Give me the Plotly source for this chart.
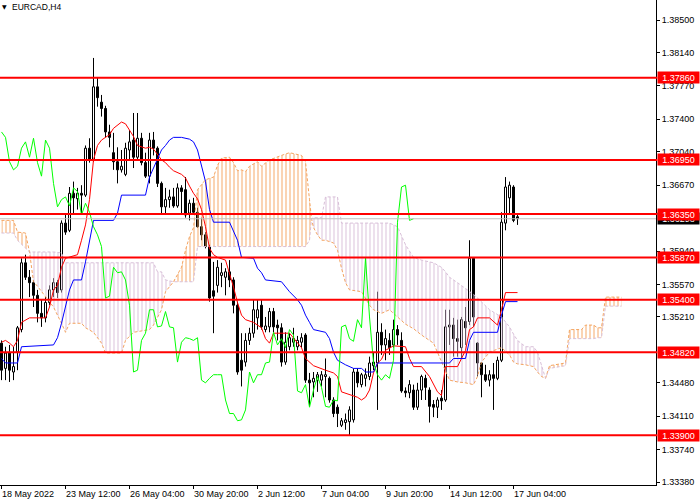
import plotly.graph_objects as go

# ---- EURCAD H4 candles (bar 0 = 18 May 20:00) ----
bars = list(range(130))

open_ = [1.3492, 1.3464, 1.3481, 1.3460, 1.3482, 1.3507, 1.3581, 1.3565, 1.3559, 1.3545,
         1.3525, 1.3520, 1.3537, 1.3551, 1.3559, 1.3551, 1.3625, 1.3617, 1.3658, 1.3652,
         1.3658, 1.3656, 1.3708, 1.3695, 1.3776, 1.3759, 1.3752, 1.3726, 1.3703, 1.3693,
         1.3684, 1.3679, 1.3706, 1.3717, 1.3698, 1.3719, 1.3692, 1.3677, 1.3717, 1.3708,
         1.3669, 1.3643, 1.3651, 1.3654, 1.3644, 1.3664, 1.3662, 1.3636, 1.3647, 1.3637,
         1.3621, 1.3612, 1.3599, 1.3550, 1.3556, 1.3567, 1.3565, 1.3571, 1.3562, 1.3534,
         1.3473, 1.3471, 1.3495, 1.3503, 1.3520, 1.3534, 1.3507, 1.3510, 1.3527, 1.3512,
         1.3509, 1.3471, 1.3488, 1.3493, 1.3488, 1.3493, 1.3501, 1.3451, 1.3449, 1.3451,
         1.3451, 1.3455, 1.3453, 1.3429, 1.3421, 1.3401, 1.3404, 1.3405, 1.3407, 1.3460,
         1.3446, 1.3453, 1.3455, 1.3467, 1.3470, 1.3504, 1.3490, 1.3495, 1.3490, 1.3507,
         1.3495, 1.3439, 1.3437, 1.3440, 1.3421, 1.3440, 1.3453, 1.3440, 1.3424, 1.3421,
         1.3431, 1.3429, 1.3510, 1.3512, 1.3497, 1.3487, 1.3516, 1.3516, 1.3586, 1.3492,
         1.3470, 1.3457, 1.3451, 1.3457, 1.3453, 1.3473, 1.3625, 1.3653, 1.3665, 1.3632]

high = [1.3495, 1.3488, 1.3490, 1.3488, 1.3511, 1.3586, 1.3590, 1.3573, 1.3562, 1.3551,
        1.3540, 1.3543, 1.3556, 1.3564, 1.3562, 1.3628, 1.3636, 1.3665, 1.3671, 1.3664,
        1.3667, 1.3711, 1.3719, 1.3808, 1.3786, 1.3767, 1.3755, 1.3734, 1.3725, 1.3709,
        1.3706, 1.3714, 1.3728, 1.3747, 1.3747, 1.3725, 1.3703, 1.3725, 1.3726, 1.3710,
        1.3671, 1.3664, 1.3662, 1.3664, 1.3669, 1.3667, 1.3676, 1.3651, 1.3653, 1.3642,
        1.3631, 1.3615, 1.3601, 1.3582, 1.3584, 1.3581, 1.3575, 1.3584, 1.3565, 1.3538,
        1.3503, 1.3503, 1.3509, 1.3540, 1.3540, 1.3540, 1.3521, 1.3531, 1.3531, 1.3518,
        1.3514, 1.3504, 1.3503, 1.3509, 1.3500, 1.3503, 1.3503, 1.3459, 1.3460, 1.3460,
        1.3461, 1.3475, 1.3455, 1.3432, 1.3424, 1.3409, 1.3414, 1.3422, 1.3464, 1.3464,
        1.3459, 1.3464, 1.3477, 1.3481, 1.3549, 1.3514, 1.3507, 1.3503, 1.3518, 1.3512,
        1.3504, 1.3443, 1.3451, 1.3446, 1.3448, 1.3457, 1.3457, 1.3443, 1.3429, 1.3432,
        1.3440, 1.3529, 1.3529, 1.3520, 1.3518, 1.3521, 1.3532, 1.3606, 1.3587, 1.3493,
        1.3471, 1.3468, 1.3462, 1.3470, 1.3477, 1.3637, 1.3676, 1.3671, 1.3667, 1.3634]

low = [1.3451, 1.3451, 1.3449, 1.3451, 1.3462, 1.3504, 1.3562, 1.3543, 1.3532, 1.3515,
       1.3510, 1.3515, 1.3534, 1.3543, 1.3542, 1.3548, 1.3612, 1.3615, 1.3636, 1.3640,
       1.3636, 1.3654, 1.3692, 1.3693, 1.3754, 1.3743, 1.3720, 1.3709, 1.3684, 1.3669,
       1.3681, 1.3677, 1.3695, 1.3686, 1.3695, 1.3689, 1.3675, 1.3669, 1.3700, 1.3665,
       1.3636, 1.3634, 1.3642, 1.3642, 1.3642, 1.3634, 1.3631, 1.3628, 1.3634, 1.3620,
       1.3606, 1.3597, 1.3538, 1.3503, 1.3548, 1.3554, 1.3545, 1.3554, 1.3525, 1.3457,
       1.3444, 1.3466, 1.3490, 1.3498, 1.3507, 1.3507, 1.3504, 1.3504, 1.3504, 1.3495,
       1.3466, 1.3468, 1.3484, 1.3488, 1.3484, 1.3487, 1.3448, 1.3422, 1.3432, 1.3438,
       1.3444, 1.3432, 1.3426, 1.3410, 1.3399, 1.3399, 1.3396, 1.3390, 1.3404, 1.3443,
       1.3443, 1.3444, 1.3451, 1.3462, 1.3418, 1.3479, 1.3473, 1.3479, 1.3487, 1.3490,
       1.3437, 1.3432, 1.3431, 1.3418, 1.3418, 1.3429, 1.3429, 1.3404, 1.3410, 1.3409,
       1.3418, 1.3427, 1.3490, 1.3477, 1.3477, 1.3475, 1.3490, 1.3512, 1.3510, 1.3455,
       1.3432, 1.3449, 1.3444, 1.3418, 1.3451, 1.3471, 1.3617, 1.3636, 1.3626, 1.3623]

close = [1.3462, 1.3481, 1.3462, 1.3466, 1.3509, 1.3581, 1.3565, 1.3559, 1.3545, 1.3525,
         1.3520, 1.3537, 1.3551, 1.3559, 1.3548, 1.3625, 1.3615, 1.3658, 1.3653, 1.3658,
         1.3656, 1.3708, 1.3695, 1.3776, 1.3764, 1.3752, 1.3726, 1.3720, 1.3693, 1.3684,
         1.3688, 1.3708, 1.3715, 1.3698, 1.3719, 1.3692, 1.3677, 1.3717, 1.3708, 1.3669,
         1.3643, 1.3651, 1.3654, 1.3644, 1.3664, 1.3660, 1.3634, 1.3647, 1.3637, 1.3621,
         1.3612, 1.3599, 1.3542, 1.3544, 1.3576, 1.3570, 1.3571, 1.3562, 1.3534, 1.3460,
         1.3462, 1.3495, 1.3503, 1.3529, 1.3529, 1.3510, 1.3511, 1.3527, 1.3510, 1.3509,
         1.3471, 1.3493, 1.3498, 1.3497, 1.3495, 1.3498, 1.3451, 1.3448, 1.3453, 1.3457,
         1.3457, 1.3457, 1.3429, 1.3414, 1.3414, 1.3406, 1.3407, 1.3418, 1.3460, 1.3448,
         1.3457, 1.3457, 1.3470, 1.3471, 1.3504, 1.3490, 1.3497, 1.3487, 1.3507, 1.3501,
         1.3439, 1.3437, 1.3446, 1.3421, 1.3440, 1.3455, 1.3443, 1.3422, 1.3421, 1.3429,
         1.3428, 1.3510, 1.3512, 1.3497, 1.3494, 1.3518, 1.3509, 1.3586, 1.3521, 1.3470,
         1.3457, 1.3451, 1.3457, 1.3453, 1.3473, 1.3626, 1.3665, 1.3667, 1.3628, 1.36298]

# ---- Ichimoku lines (bar, price) ----
tenkan_bars = [0, 1, 2, 3, 4, 5, 7, 11, 12, 13, 14, 15, 16, 19, 20, 21, 22, 23, 24, 25,
               27, 28, 30, 31, 32, 33, 34, 36, 37, 38, 40, 41, 42, 43, 45, 46, 47, 48, 49, 50,
               51, 52, 53, 54, 56, 57, 58, 59, 60, 61, 63, 65, 66, 67, 68, 72, 73, 75, 76, 78,
               81, 83, 84, 85, 89, 90, 91, 92, 93, 94, 95, 96, 98, 101, 102, 103, 105, 106, 107, 109,
               110, 111, 114, 116, 117, 118, 119, 122, 124, 125, 126, 129]
tenkan = [1.3493, 1.3495, 1.3492, 1.3488, 1.3495, 1.3515, 1.3520, 1.3520, 1.3532, 1.3551,
          1.3556, 1.3576, 1.3586, 1.3590, 1.3606, 1.3623, 1.3651, 1.3695, 1.3711, 1.3717,
          1.3723, 1.3730, 1.3737, 1.3735, 1.3728, 1.3721, 1.3711, 1.3708, 1.3709, 1.3707,
          1.3695, 1.3692, 1.3687, 1.3683, 1.3679, 1.3675, 1.3666, 1.3658, 1.3652, 1.3640,
          1.3621, 1.3597, 1.3590, 1.3587, 1.3584, 1.3570, 1.3554, 1.3537, 1.3523, 1.3518,
          1.3515, 1.3509, 1.3497, 1.3492, 1.3503, 1.3503, 1.3498, 1.3487, 1.3475, 1.3467,
          1.3462, 1.3459, 1.3455, 1.3438, 1.3432, 1.3429, 1.3432, 1.3440, 1.3459, 1.3470,
          1.3474, 1.3484, 1.3489, 1.3488, 1.3475, 1.3466, 1.3466, 1.3460, 1.3455, 1.3438,
          1.3434, 1.3466, 1.3466, 1.3484, 1.3507, 1.3510, 1.3520, 1.3520, 1.3512, 1.3529,
          1.3548, 1.3548]

kijun_bars = [0, 1, 4, 5, 13, 14, 15, 16, 17, 18, 20, 21, 22, 23, 28, 29, 30, 36, 37, 38,
              39, 40, 41, 42, 43, 45, 47, 48, 49, 50, 51, 52, 53, 57, 58, 59, 60, 63, 64, 65,
              66, 70, 72, 74, 75, 76, 77, 78, 81, 82, 83, 84, 86, 88, 90, 91, 93, 94, 112, 113,
              116, 117, 118, 124, 125, 126, 129]
kijun = [1.3475, 1.3470, 1.3470, 1.3488, 1.3490, 1.3498, 1.3514, 1.3534, 1.3551, 1.3562,
         1.3562, 1.3582, 1.3606, 1.3628, 1.3628, 1.3636, 1.3656, 1.3656, 1.3676, 1.3686,
         1.3695, 1.3706, 1.3711, 1.3717, 1.3720, 1.3720, 1.3718, 1.3715, 1.3706, 1.3689,
         1.3671, 1.3640, 1.3626, 1.3626, 1.3615, 1.3606, 1.3587, 1.3586, 1.3575, 1.3570,
         1.3562, 1.3560, 1.3549, 1.3540, 1.3534, 1.3523, 1.3515, 1.3507, 1.3504, 1.3497,
         1.3482, 1.3473, 1.3468, 1.3464, 1.3464, 1.3460, 1.3460, 1.3470, 1.3470, 1.3475,
         1.3475, 1.3495, 1.3504, 1.3504, 1.3523, 1.3538, 1.3538]

# cloud spans (shifted 26 bars forward)
span_bars = [0, 3, 4, 6, 7, 8, 9, 11, 13, 15, 16, 17, 20, 21, 23, 25, 26, 30, 31, 33,
             37, 38, 39, 40, 41, 43, 45, 46, 47, 48, 49, 51, 53, 54, 55, 57, 58, 59, 60, 61,
             62, 64, 65, 67, 70, 72, 75, 76, 77, 77.5, 78, 79, 80, 81, 83, 84, 85, 86, 87, 90,
             92, 93, 95, 97, 99, 101, 103, 105, 108, 110, 111, 112, 114, 116, 118, 119, 120, 122, 125, 127,
             128, 129, 131, 133, 134, 135, 136, 137, 141, 142, 145, 146, 148, 149, 150, 151, 155]
span_a = [1.3628, 1.3628, 1.3615, 1.3614, 1.3593, 1.3560, 1.3555, 1.3543, 1.3532, 1.3514,
          1.3504, 1.3514, 1.3514, 1.3509, 1.3504, 1.3492, 1.3481, 1.3481, 1.3495, 1.3504,
          1.3507, 1.3512, 1.3520, 1.3529, 1.3549, 1.3560, 1.3576, 1.3595, 1.3610, 1.3620,
          1.3662, 1.3673, 1.3676, 1.3689, 1.3697, 1.3698, 1.3692, 1.3683, 1.3684, 1.3682,
          1.3688, 1.3693, 1.3688, 1.3695, 1.3700, 1.3703, 1.3700, 1.3693, 1.3651, 1.3630,
          1.3620, 1.3612, 1.3606, 1.3606, 1.3603, 1.3595, 1.3575, 1.3559, 1.3551, 1.3549,
          1.3534, 1.3529, 1.3525, 1.3529, 1.3521, 1.3513, 1.3508, 1.3501, 1.3492, 1.3471,
          1.3460, 1.3451, 1.3449, 1.3448, 1.3446, 1.3455, 1.3471, 1.3482, 1.3487, 1.3479,
          1.3471, 1.3469, 1.3468, 1.3466, 1.3460, 1.3455, 1.3453, 1.3467, 1.3470, 1.3507,
          1.3507, 1.3512, 1.3512, 1.3509, 1.3509, 1.3543, 1.3543]
span_b = [1.3614, 1.3614, 1.3606, 1.3597, 1.3593, 1.3593, 1.3593, 1.3593, 1.3593, 1.3592,
          1.3581, 1.3581, 1.3581, 1.3581, 1.3581, 1.3581, 1.3581, 1.3581, 1.3581, 1.3581,
          1.3581, 1.3581, 1.3571, 1.3571, 1.3562, 1.3560, 1.3560, 1.3560, 1.3560, 1.3560,
          1.3599, 1.3599, 1.3599, 1.3599, 1.3599, 1.3599, 1.3599, 1.3599, 1.3599, 1.3599,
          1.3599, 1.3599, 1.3599, 1.3599, 1.3599, 1.3599, 1.3599, 1.3599, 1.3606, 1.3630,
          1.3631, 1.3631, 1.3631, 1.3654, 1.3654, 1.3654, 1.3625, 1.3625, 1.3625, 1.3625,
          1.3625, 1.3625, 1.3625, 1.3625, 1.3621, 1.3601, 1.3587, 1.3584, 1.3581, 1.3576,
          1.3571, 1.3565, 1.3559, 1.3553, 1.3546, 1.3542, 1.3538, 1.3529, 1.3521, 1.3510,
          1.3502, 1.3495, 1.3488, 1.3488, 1.3482, 1.3466, 1.3453, 1.3464, 1.3467, 1.3497,
          1.3497, 1.3497, 1.3497, 1.3498, 1.3498, 1.3533, 1.3533]

# ---- levels & axes ----
level_prices = [1.3786, 1.3695, 1.3635, 1.3587, 1.3540, 1.3482, 1.3390]
last_price = 1.36298
y_ticks = [1.3850, 1.3814, 1.3777, 1.3740, 1.3704, 1.3667, 1.3594, 1.3557,
           1.3521, 1.3448, 1.3411, 1.3374, 1.3338]
x_ticks = [0, 16, 32, 48, 64, 80, 96, 112, 128]
x_labels = ['18 May 2022', '23 May 12:00', '26 May 04:00', '30 May 20:00', '2 Jun 12:00',
            '7 Jun 04:00', '9 Jun 20:00', '14 Jun 12:00', '17 Jun 04:00']

FONT = 'Liberation Sans, Arial, sans-serif'
SANDY = '#F4A460'
THISTLE = '#D8BFD8'

fig = go.Figure()

# candles: wicks as line segments, bodies as floating bars
wick_x, wick_y = [], []
for i, o, h, l, c in zip(bars, open_, high, low, close):
    top, bot = max(o, c), min(o, c)
    wick_x += [i, i, None, i, i, None]
    wick_y += [h, top, None, bot, l, None]
fig.add_trace(go.Scatter(x=wick_x, y=wick_y, mode='lines',
                         line=dict(color='black', width=1), hoverinfo='skip'))

up = [i for i in bars if close[i] >= open_[i]]
dn = [i for i in bars if close[i] < open_[i]]
for idx, fill in ((up, 'white'), (dn, 'black')):
    fig.add_trace(go.Bar(
        x=idx,
        base=[min(open_[i], close[i]) for i in idx],
        y=[abs(close[i] - open_[i]) for i in idx],
        width=0.5, marker=dict(color=fill, line=dict(color='black', width=1)),
        hoverinfo='skip'))

# cloud: hatched fill between the spans, split where they cross
start = 0
for i in range(1, len(span_bars)):
    if span_a[i] == span_b[i] or i == len(span_bars) - 1:
        xs = span_bars[start:i + 1]
        a = span_a[start:i + 1]
        b = span_b[start:i + 1]
        col = SANDY if sum(a) > sum(b) else THISTLE
        fig.add_trace(go.Scatter(x=xs, y=b, mode='lines', line=dict(width=0),
                                 hoverinfo='skip'))
        fig.add_trace(go.Scatter(x=xs, y=a, mode='lines', line=dict(width=0),
                                 fill='tonexty', fillcolor='rgba(0,0,0,0)',
                                 fillpattern=dict(shape='|', fgcolor=col,
                                                  bgcolor='rgba(0,0,0,0)',
                                                  size=4, solidity=0.25, fgopacity=0.95,
                                                  fillmode='replace'),
                                 hoverinfo='skip'))
        start = i

fig.add_trace(go.Scatter(x=span_bars, y=span_a, mode='lines',
                         line=dict(color=SANDY, width=1, dash='3px,2px')))
fig.add_trace(go.Scatter(x=span_bars, y=span_b, mode='lines',
                         line=dict(color=THISTLE, width=1, dash='3px,2px')))

fig.add_trace(go.Scatter(x=tenkan_bars, y=tenkan, mode='lines',
                         line=dict(color='#FF0000', width=1)))
fig.add_trace(go.Scatter(x=kijun_bars, y=kijun, mode='lines',
                         line=dict(color='#0000FF', width=1)))
# chikou = close plotted 26 bars back
fig.add_trace(go.Scatter(x=bars[:-26], y=close[26:], mode='lines',
                         line=dict(color='#00FF00', width=1)))

shapes = [dict(type='line', xref='paper', x0=0, x1=1, yref='y', y0=last_price, y1=last_price,
               line=dict(color='#C0C0C0', width=1), layer='above')]
for p in level_prices:
    shapes.append(dict(type='line', xref='paper', x0=0, x1=1.002, yref='y', y0=p, y1=p,
                       line=dict(color='#FF0000', width=2), layer='above'))

annotations = [
    dict(xref='paper', x=1, xanchor='left', xshift=1, yref='y', y=last_price,
         text=f'{last_price:.5f}', showarrow=False, bgcolor='black', width=41, height=11,
         borderpad=0, font=dict(family=FONT, size=9, color='white'))
]
for p in level_prices:
    annotations.append(dict(xref='paper', x=1, xanchor='left', xshift=1, yref='y', y=p,
                            text=f'{p:.5f}', showarrow=False, bgcolor='#FF0000',
                            width=41, height=11, borderpad=0,
                            font=dict(family=FONT, size=9, color='white')))
for b, t in zip(x_ticks, x_labels):
    annotations.append(dict(xref='x', x=b, xanchor='left', xshift=-2, yref='paper', y=0,
                            yanchor='top', yshift=-2, text=t, showarrow=False,
                            font=dict(family=FONT, size=9, color='black')))
annotations.append(dict(xref='paper', x=0, xanchor='left', xshift=0, yref='paper', y=1,
                        yanchor='top', yshift=-1, text='▼', showarrow=False,
                        font=dict(family='DejaVu Sans', size=6, color='black')))
annotations.append(dict(xref='paper', x=0, xanchor='left', xshift=10, yref='paper', y=1,
                        yanchor='top', yshift=0, text='EURCAD,H4', showarrow=False,
                        font=dict(family=FONT, size=8.5, color='black')))

fig.update_layout(
    width=700, height=500,
    margin=dict(l=0, r=44, t=0, b=15),
    paper_bgcolor='white', plot_bgcolor='white',
    showlegend=False, barmode='overlay',
    shapes=shapes, annotations=annotations,
    xaxis=dict(range=[-0.375, 163.625], tickvals=x_ticks, ticks='outside', ticklen=3,
               tickcolor='black', showticklabels=False, showline=True, linecolor='black',
               linewidth=1, showgrid=False, zeroline=False),
    yaxis=dict(side='right', range=[1.33348, 1.38722], tickvals=y_ticks, tickformat='.5f',
               ticks='outside', ticklen=3, tickcolor='black', showline=True,
               linecolor='black', linewidth=1, showgrid=False, zeroline=False,
               tickfont=dict(family=FONT, size=9, color='black')),
)

# page has a default 8px body margin; drop it so the chart sits at the window corner
fig.write_html("out.html", config={'displayModeBar': False},
               post_script="document.body.style.margin='0';")
